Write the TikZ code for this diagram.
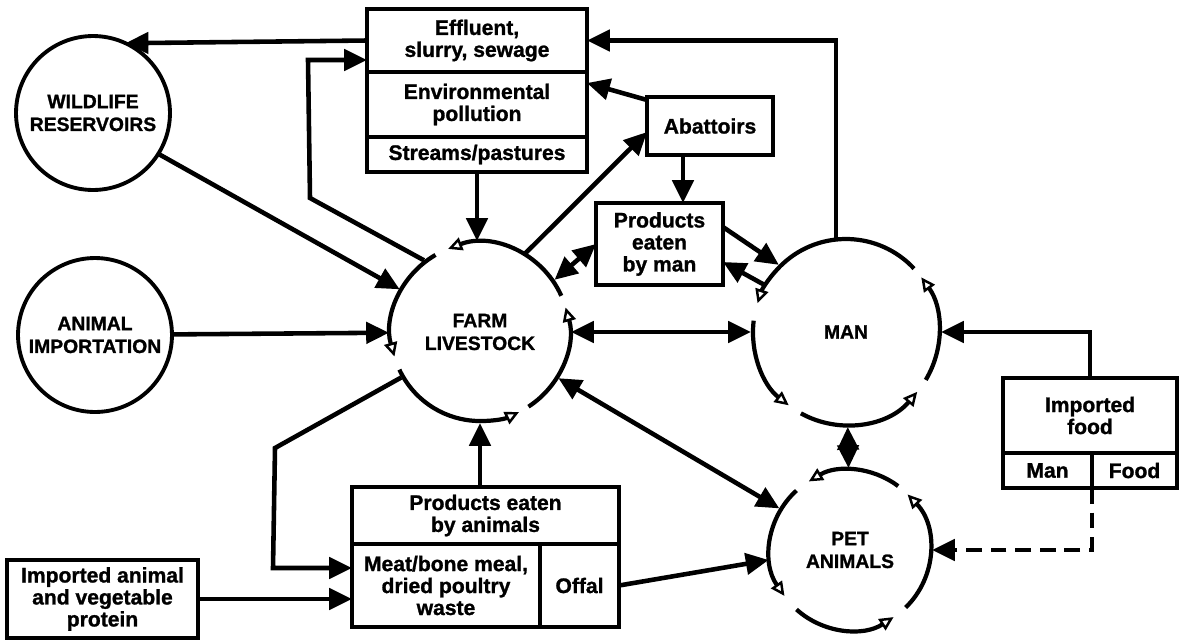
\documentclass[tikz,border=0pt]{standalone}
\usepackage{fontspec}
\setmainfont{Liberation Sans}[BoldFeatures={FakeBold=1.2}]
\usetikzlibrary{arrows.meta,calc}
\newcommand\boxfont{\fontsize{12}{12.5}\selectfont\bfseries}
\newcommand\hubfont{\fontsize{11}{13}\selectfont\bfseries}
\tikzset{
  conn/.style={line width=2.6pt},
  arr/.style={conn, -{Triangle[length=13pt,width=12pt]}},
  darr/.style={conn, {Triangle[length=13pt,width=12pt]}-{Triangle[length=13pt,width=12pt]}},
  ring/.style={line width=2.4pt, -{Triangle[open,length=8pt,width=7.5pt,line width=1.4pt]}},
  hub/.style={circle, inner sep=0pt, outer sep=0pt, align=center, font=\hubfont},
  hubdrawn/.style={hub, draw, line width=2.2pt},
  bx/.style={draw, line width=2pt, inner sep=0pt, outer sep=0pt, align=center, font=\boxfont},
  dashline/.style={dash pattern=on 9pt off 5pt}
}
\begin{document}
\begin{tikzpicture}[x=0.02cm,y=0.02cm]
\useasboundingbox (0,0) rectangle (1179,-643);

% hubs
\node[hubdrawn, minimum size=3.08cm] (wild) at (93,-113) {WILDLIFE\\RESERVOIRS};
\node[hubdrawn, minimum size=3.08cm] (imp) at (95,-335) {ANIMAL\\IMPORTATION};
\node[hub, minimum size=3.64cm] (farm) at (480,-332) {FARM\\LIVESTOCK};
\node[hub, minimum size=3.8cm] (man) at (846,-332) {MAN};
\node[hub, minimum size=3.28cm] (pet) at (850,-550) {PET\\ANIMALS};

% rings with gaps
\foreach \a/\b in {24/111,120/196,205/296,303/376}
  \draw[ring] ([shift={(\a:89)}]farm.center) arc[start angle=\a, end angle=\b, radius=89];
\foreach \a/\b in {43/162,173/232,241/320,329/396}
  \draw[ring] ([shift={(\a:93)}]man.center) arc[start angle=\a, end angle=\b, radius=93];
\foreach \a/\b in {53/121,132/215,228/303,314/404}
  \draw[ring] ([shift={(\a:80)}]pet.center) arc[start angle=\a, end angle=\b, radius=80];

% boxes
\node[bx, minimum width=4.4cm, minimum height=1.26cm] (eff) at (477,-40.5) {Effluent,\\slurry, sewage};
\node[bx, minimum width=4.4cm, minimum height=1.3cm] (env) at (477,-104.5) {Environmental\\pollution};
\node[bx, minimum width=4.4cm, minimum height=0.7cm] (str) at (477,-154.5) {Streams/pastures};
\node[bx, minimum width=2.52cm, minimum height=1.16cm] (abat) at (710,-126) {Abattoirs};
\node[bx, minimum width=2.54cm, minimum height=1.64cm] (pman) at (659.5,-244) {Products\\eaten\\by man};
\node[bx, minimum width=5.34cm, minimum height=1.14cm] (pa) at (485.5,-515.5) {Products eaten\\by animals};
\node[bx, minimum width=3.76cm, minimum height=1.66cm] (meat) at (446,-585.5) {Meat/bone meal,\\dried poultry\\waste};
\node[bx, minimum width=1.58cm, minimum height=1.66cm] (offal) at (579.5,-585.5) {Offal};
\node[bx, minimum width=3.82cm, minimum height=1.56cm] (prot) at (102.5,-599) {Imported animal\\and vegetable\\protein};
\node[bx, minimum width=3.48cm, minimum height=1.5cm] (ifood) at (1090,-415.5) {Imported\\food};
\node[bx, minimum width=1.78cm, minimum height=0.7cm] (ifm) at (1047.5,-470.5) {Man};
\node[bx, minimum width=1.7cm, minimum height=0.7cm] (iff) at (1134.5,-470.5) {Food};

% helper coordinates
\coordinate (lpa) at (310,-198);
\coordinate (lpb) at (308,-60);
\coordinate (lpc) at (275,-448);
\coordinate (lpd) at (273,-568);

% connectors
\draw[arr] (eff.west) -- (wild.65);
\draw[arr] (farm.128) -- (lpa) -- (lpb) -- (eff.west |- lpb);
\draw[arr] (man.96) |- (eff.east);
\draw[arr] ([yshift=-0.06cm]abat.north west) -- ([yshift=0.43cm]env.east);
\draw[arr] (farm.60) -- ([yshift=-0.12cm]abat.west);
\draw[arr] ([xshift=-0.54cm]abat.south) -- ([xshift=-0.54cm]abat.south |- pman.north);
\draw[arr] (str.south) -- (str.south |- farm.north);
\draw[arr] (wild.-32) -- (farm.152);
\draw[arr] (imp) -- (farm);
\draw[darr] (pman.west) -- (farm.35);
\draw[arr] ([yshift=0.34cm]pman.east) -- (man.135);
\draw[arr] (man.150) -- ([yshift=-0.36cm]pman.east);
\draw[darr] (farm) -- (man);
\draw[arr] (farm.south |- pa.north) -- (farm.south);
\draw[arr] (farm.210) -- (lpc) -- (lpd) -- (meat.west |- lpd);
\draw[arr] (prot.east) -- (prot.east -| meat.west);
\draw[arr] (offal.east) -- (pet.187);
\draw[darr] (farm) -- (pet);
\draw[darr] (man) -- (pet);
\draw[arr] (ifood.north) |- (man.east);
\draw[arr, dashline] (ifm.south east) |- (pet.east);
\end{tikzpicture}
\end{document}
